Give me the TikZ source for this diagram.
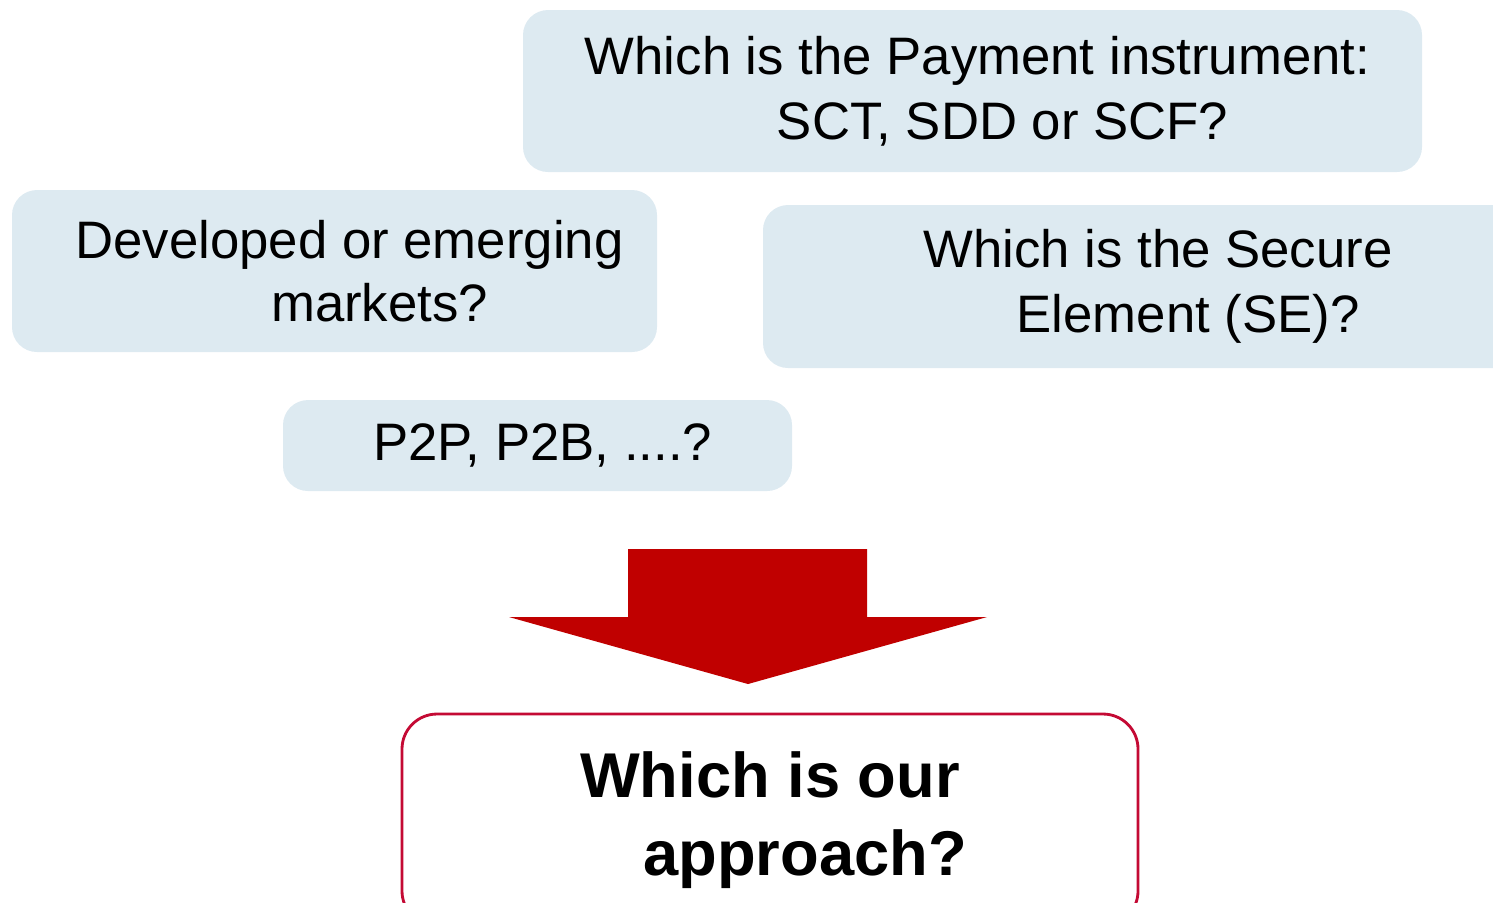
\documentclass[tikz,border=0pt]{standalone}
\usepackage{fontspec}
\setmainfont{Liberation Sans}
\usetikzlibrary{positioning}

\definecolor{qblue}{RGB}{221,234,241}
\definecolor{arrowred}{RGB}{192,0,0}
\definecolor{boxred}{RGB}{196,10,52}

\tikzset{
    qbox/.style={rectangle, rounded corners=0.25cm, fill=qblue, align=center,
        font=\fontsize{15}{18}\selectfont, inner sep=0pt},
    answerbox/.style={rectangle, rounded corners=0.35cm, draw=boxred, line width=0.8pt,
        fill=white, align=center, font=\fontsize{18}{22}\selectfont\bfseries, inner sep=0pt}
}

\begin{document}
\begin{tikzpicture}[scale=1.0]
    \useasboundingbox (0,0) rectangle (14.93,-9.02);
    \clip (0,0) rectangle (14.93,-9.02);

    \node[qbox, minimum width=8.99cm, minimum height=1.62cm] (payment) at (9.725,-0.91)
        {\hspace*{0.1cm}Which is the Payment instrument:\\[0.02cm] \hspace*{0.6cm}SCT, SDD or SCF?};
    \node[qbox, minimum width=6.45cm, minimum height=1.62cm] (markets) at (3.345,-2.71)
        {\hspace*{0.3cm}Developed or emerging\\ \hspace*{0.9cm}markets?};
    \node[qbox, minimum width=7.9cm, minimum height=1.63cm] (secure) at (11.58,-2.865)
        {Which is the Secure\\[0.02cm] \hspace*{0.6cm}Element (SE)?};
    \node[qbox, minimum width=5.09cm, minimum height=0.91cm] (p2p) at (5.375,-4.455)
        {\hspace*{0.1cm}P2P, P2B, ....?};

    \node[answerbox, minimum width=7.36cm, minimum height=2.12cm] (approach) at (7.70,-8.20)
        {Which is our\\ \hspace*{0.7cm}approach?};

    % block arrow down to the answer
    \coordinate (tip) at (7.48,-6.84);
    \fill[arrowred] (6.28,-5.49) -- (8.67,-5.49) -- (8.67,-6.17) -- (9.87,-6.17)
        -- (tip) -- (5.09,-6.17) -- (6.28,-6.17) -- cycle;
\end{tikzpicture}
\end{document}
